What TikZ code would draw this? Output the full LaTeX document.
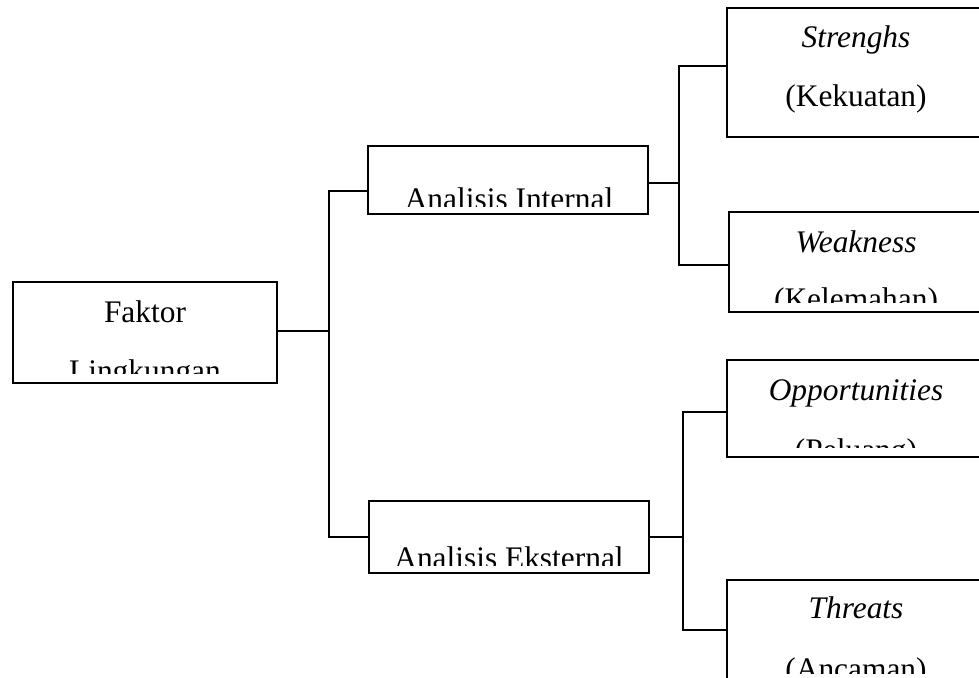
\documentclass[tikz,border=0pt]{standalone}
\usepackage{fontspec}
\setmainfont{Liberation Serif}
\usetikzlibrary{fit}

\tikzset{
  kotak/.style={draw, line width=1pt, inner sep=0pt},
  teks/.style={anchor=base, inner sep=0pt, font=\fontsize{15.7}{18}\selectfont},
  garis/.style={line width=1pt}
}

% isi kotak: nama, batas bawah, x, y1, baris1, y2, baris2
\newcommand{\isikotak}[7]{%
  \begin{scope}
    \clip (#1.north west) rectangle (#1.east |- 0,#2);
    \node[teks] (#1-a) at (#3,#4) {#5};
    \node[teks] (#1-b) at (#3,#6) {#7};
  \end{scope}}

\begin{document}
\begin{tikzpicture}[x=0.5pt,y=-0.5pt]
\clip (0,0) rectangle (979,677);
\fill[white] (0,0) rectangle (979,677);

% kotak
\node[kotak, fit={(13,282) (277,383)}] (faktor) {};
\node[kotak, fit={(368,146) (648,214)}] (internal) {};
\node[kotak, fit={(369,501) (649,573)}] (eksternal) {};
\node[kotak, fit={(727,8) (985,137)}] (strength) {};
\node[kotak, fit={(729,212) (985,312)}] (weakness) {};
\node[kotak, fit={(727,360) (985,457)}] (opportunity) {};
\node[kotak, fit={(727,580) (985,700)}] (threat) {};

% teks
\isikotak{faktor}{373}{145}{322}{Faktor}{381}{Lingkungan}
\isikotak{internal}{206}{509}{209}{Analisis Internal}{268}{}
\isikotak{eksternal}{565}{509}{568}{Analisis Eksternal}{626}{}
\isikotak{strength}{130}{856}{47}{\textit{Strenghs}}{106}{(Kekuatan)}
\isikotak{weakness}{302}{856}{252}{\textit{Weakness}}{309}{(Kelemahan)}
\isikotak{opportunity}{447}{856}{400}{\textit{Opportunities}}{460}{(Peluang)}
\isikotak{threat}{673}{856}{618}{\textit{Threats}}{679}{(Ancaman)}

% garis penghubung
\draw[garis] (faktor.east |- 0,331) -- (329,331);
\draw[garis] (internal.west |- 0,191) -| (329,537) -- (eksternal.west |- 0,537);

\draw[garis] (internal.east |- 0,183) -- (679,183);
\draw[garis] (strength.west |- 0,66) -| (679,265) -- (weakness.west |- 0,265);

\draw[garis] (eksternal.east |- 0,537) -- (683,537);
\draw[garis] (opportunity.west |- 0,412) -| (683,630) -- (threat.west |- 0,630);

\end{tikzpicture}
\end{document}
